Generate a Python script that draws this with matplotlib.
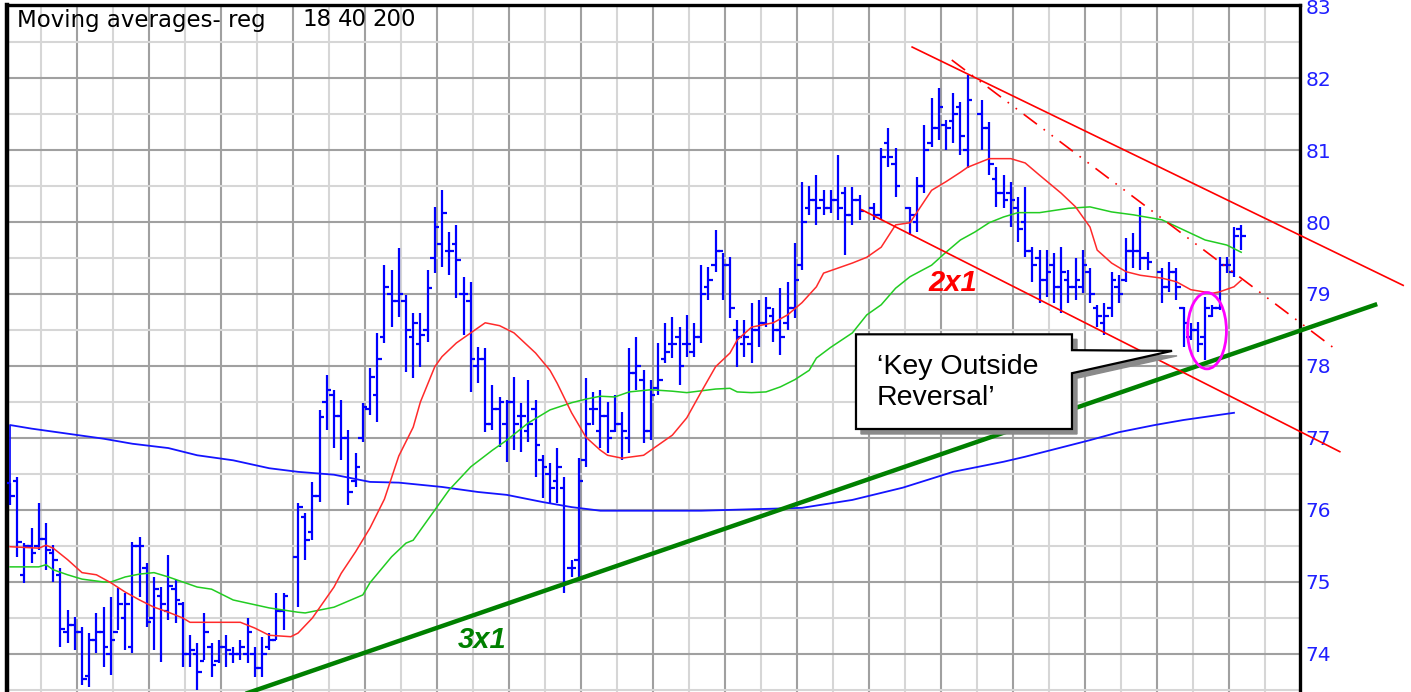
import numpy as np
import matplotlib
matplotlib.use("Agg")
import matplotlib.pyplot as plt
from matplotlib.patches import Ellipse, Polygon
from matplotlib import transforms

nan = np.nan

# daily bars (one value per trading day, nan = no bar)
high = [76.38, 76.46, 75.54, 75.75, 76.10, 75.82, 75.51, 75.20, 74.61, 74.51,
        74.37, 74.29, 74.57, 74.65, 74.79, 74.92, 74.85, 75.56, 75.63, 75.26,
        75.07, 74.93, 75.38, 75.03, 74.72, 74.26, 74.15, 74.57, 74.15, 74.19,
        74.26, 74.10, 74.19, 74.50, 74.10, 74.24, 74.29, 74.85, 74.85, nan,
        76.10, 75.96, 76.39, 77.39, 77.88, 77.67, 77.53, 77.11, 76.79, 77.49,
        77.97, 78.46, 79.40, 79.33, 79.64, 78.99, 78.74, 78.74, 79.33, 80.21,
        80.44, 79.86, 79.96, 79.24, 79.17, 78.26, 78.25, 77.74, 77.57, 77.53,
        77.85, 77.49, 77.81, 77.53, 76.76, 76.65, 76.86, 76.46, 75.31, 76.72,
        77.83, 77.64, 77.67, 77.50, 77.60, 77.36, 78.25, 78.40, 77.94, 77.81,
        78.32, 78.60, 78.68, 78.54, 78.71, 78.60, 79.40, 79.38, 79.89, 79.57,
        79.51, 78.64, 78.64, 78.88, 78.92, 78.96, 78.81, 79.08, 79.17, 79.71,
        80.56, 80.50, 80.65, 80.44, 80.44, 80.93, 80.49, 80.49, 80.38, nan,
        80.26, 81.03, 81.31, 81.03, nan, 80.21, 80.63, 81.35, 81.72, 81.86,
        81.42, 81.79, 81.67, 82.04, nan, 81.69, 81.39, 80.76, 80.65, 80.56,
        80.35, 80.49, 79.65, 79.61, 79.61, 79.57, 79.65, 79.33, 79.50, 79.61,
        79.36, 78.85, 78.88, 79.31, 79.26, 79.78, 79.85, 80.21, 79.58, nan,
        79.36, 79.44, 79.36, 78.82, 78.60, 78.61, 78.96, 78.85, 79.51, 79.51,
        79.93, 79.96]

low = [76.07, 75.35, 74.99, 75.26, 75.44, 75.17, 75.00, 74.10, 74.15, 74.06,
       73.57, 73.54, 74.01, 73.82, 73.71, 74.33, 74.06, 74.01, 74.79, 74.37,
       74.06, 73.89, 74.47, 74.43, 73.82, 73.82, 73.50, 73.92, 73.68, 73.88,
       73.82, 73.88, 73.92, 73.88, 73.68, 73.68, 74.06, 74.19, 74.33, nan,
       74.65, 75.31, 75.58, 76.11, 77.11, 76.86, 76.69, 76.07, 76.32, 76.94,
       77.32, 77.22, 78.32, 78.54, 78.68, 77.92, 77.83, 77.99, 78.33, 79.29,
       79.38, 79.26, 78.94, 78.43, 77.64, 77.76, 77.08, 77.11, 76.88, 76.67,
       76.83, 76.81, 76.94, 76.46, 76.17, 76.10, 76.10, 74.85, 75.07, 75.07,
       76.60, 77.18, 76.86, 76.79, 77.08, 76.69, 76.79, 77.67, 76.93, 76.97,
       77.60, 78.04, 78.11, 77.74, 78.13, 78.13, 78.32, 78.92, 79.31, 78.92,
       78.67, 77.99, 78.13, 78.04, 78.26, 78.54, 78.33, 78.15, 78.50, 78.67,
       79.33, 80.10, 79.96, 80.10, 80.12, 80.03, 79.54, 79.96, 80.03, nan,
       80.03, 80.03, 80.76, 80.35, nan, 79.82, 79.86, 80.40, 81.04, 81.14,
       81.00, 81.10, 80.93, 80.75, nan, 81.00, 80.65, 80.21, 80.19, 79.93,
       79.72, 79.51, 79.17, 78.88, 78.96, 78.88, 78.74, 78.88, 78.92, 79.01,
       78.88, 78.54, 78.43, 78.68, 78.88, 79.17, 79.36, 79.33, 79.33, nan,
       78.88, 79.03, 78.92, 78.26, 78.36, 78.19, 78.08, 78.68, 78.78, 79.29,
       79.24, 79.61]

opens = [76.38, 76.40, 75.10, 75.50, 75.50, 75.60, 75.40, 75.10, 74.30, 74.40,
         74.30, 73.70, 74.20, 74.30, 74.00, 74.30, 74.50, 74.10, 75.50, 75.20,
         74.50, 74.80, 74.60, 74.90, 74.70, 74.00, 74.00, 73.90, 74.10, 73.90,
         74.10, 74.00, 74.00, 74.00, 74.00, 73.80, 74.10, 74.20, 74.60, nan,
         75.35, 75.90, 75.70, 76.20, 77.50, 77.60, 77.30, 77.00, 76.40, 77.00,
         77.40, 77.60, 78.40, 79.00, 78.90, 78.90, 78.40, 78.30, 78.50, 79.50,
         79.70, 79.60, 79.70, 79.00, 78.90, 78.00, 78.10, 77.20, 77.40, 77.20,
         77.50, 77.30, 77.10, 77.40, 76.70, 76.50, 76.40, 76.30, 75.20, 75.30,
         76.70, 77.40, 77.10, 77.30, 77.10, 77.20, 77.00, 77.90, 77.80, 77.10,
         77.70, 78.10, 78.30, 78.40, 78.30, 78.20, 78.40, 79.10, 79.40, 79.60,
         79.40, 78.50, 78.30, 78.30, 78.50, 78.60, 78.70, 78.50, 78.60, 78.80,
         79.40, 80.20, 80.30, 80.30, 80.20, 80.30, 80.40, 80.10, 80.30, nan,
         80.20, 80.10, 81.10, 80.80, nan, 80.20, 80.00, 80.50, 81.10, 81.30,
         81.35, 81.40, 81.60, 81.00, nan, 81.50, 81.30, 80.60, 80.40, 80.40,
         80.20, 80.00, 79.60, 79.50, 79.20, 79.40, 79.10, 79.20, 79.10, 79.10,
         79.30, 78.80, 78.60, 78.80, 79.10, 79.20, 79.60, 79.60, 79.50, nan,
         79.30, 79.10, 79.30, 78.80, 78.40, 78.50, 78.40, 78.70, 78.80, 79.40,
         79.30, 79.90]

close = [76.20, 75.55, 75.50, 75.40, 75.60, 75.45, 75.30, 74.35, 74.40, 74.30,
         73.65, 74.20, 74.30, 74.10, 74.20, 74.70, 74.70, 75.50, 75.50, 74.45,
         74.90, 74.70, 74.95, 74.75, 74.00, 74.05, 73.75, 74.30, 73.85, 74.10,
         74.05, 74.00, 74.10, 74.30, 73.80, 74.00, 74.20, 74.60, 74.80, nan,
         76.04, 75.58, 76.20, 77.29, 77.67, 77.30, 77.00, 76.25, 76.60, 77.43,
         77.85, 78.10, 79.10, 78.90, 79.00, 78.50, 78.60, 78.43, 79.08, 79.93,
         80.12, 79.60, 79.47, 79.00, 78.10, 78.10, 77.20, 77.40, 77.50, 77.50,
         77.20, 77.30, 77.20, 76.90, 76.60, 76.30, 76.60, 75.00, 75.20, 76.40,
         77.20, 77.40, 77.30, 77.00, 77.20, 77.10, 77.90, 78.00, 77.10, 77.60,
         77.80, 78.20, 78.30, 78.00, 78.30, 78.40, 79.00, 79.20, 79.60, 79.40,
         78.80, 78.40, 78.40, 78.50, 78.60, 78.80, 78.50, 78.40, 78.80, 79.20,
         80.00, 80.30, 80.20, 80.20, 80.30, 80.20, 80.10, 80.30, 80.15, nan,
         80.10, 80.90, 80.90, 80.50, nan, 80.10, 80.50, 81.00, 81.30, 81.60,
         81.30, 81.50, 81.20, 81.70, nan, 81.30, 80.80, 80.40, 80.30, 80.30,
         79.90, 79.60, 79.40, 79.20, 79.30, 79.10, 79.30, 79.10, 79.20, 79.40,
         79.00, 78.70, 78.70, 79.20, 79.00, 79.60, 79.60, 79.50, 79.45, nan,
         79.10, 79.30, 79.10, 78.60, 78.50, 78.30, 78.80, 78.80, 79.40, 79.40,
         79.80, 79.80]

# moving averages (bar index, price)
ma18_day = [0, 4, 5, 6, 8, 10, 12, 14, 16, 18, 20, 22, 24, 25, 28, 32, 34, 36,
            39, 40, 42, 45, 46, 48, 50, 52, 54, 56, 57, 59, 60, 62, 64, 66, 68,
            70, 73, 75, 76, 78, 80, 82, 83, 85, 88, 89, 92, 94, 96, 98, 100,
            101, 103, 106, 108, 110, 112, 113, 117, 119, 121, 123, 125, 126,
            128, 130, 132, 133, 136, 139, 141, 143, 146, 148, 150, 151, 153,
            155, 157, 160, 162, 164, 167, 168, 170, 171]
ma18_val = [75.49, 75.47, 75.51, 75.47, 75.31, 75.13, 75.10, 74.99, 74.86,
            74.75, 74.65, 74.58, 74.50, 74.44, 74.44, 74.44, 74.36, 74.26,
            74.24, 74.29, 74.50, 74.93, 75.12, 75.42, 75.75, 76.15, 76.75,
            77.15, 77.50, 77.99, 78.13, 78.32, 78.46, 78.60, 78.56, 78.46,
            78.18, 77.94, 77.76, 77.35, 77.01, 76.83, 76.76, 76.72, 76.76,
            76.83, 77.04, 77.28, 77.64, 77.99, 78.18, 78.36, 78.54, 78.60,
            78.71, 78.88, 79.10, 79.29, 79.43, 79.51, 79.65, 79.96, 79.99,
            80.14, 80.44, 80.56, 80.69, 80.76, 80.88, 80.88, 80.82, 80.65,
            80.40, 80.21, 79.93, 79.61, 79.43, 79.31, 79.26, 79.22, 79.17,
            79.06, 79.01, 79.03, 79.10, 79.19]

ma40_day = [0, 4, 5, 6, 8, 10, 13, 14, 16, 18, 20, 22, 24, 26, 28, 31, 36, 40,
            41, 45, 49, 50, 53, 55, 56, 59, 61, 64, 67, 69, 72, 75, 78, 80, 82,
            84, 86, 89, 92, 94, 98, 100, 101, 103, 105, 107, 109, 111, 112,
            114, 117, 119, 121, 123, 125, 128, 130, 132, 134, 136, 138, 140,
            143, 147, 150, 153, 156, 160, 163, 166, 169, 171]
ma40_val = [75.21, 75.21, 75.24, 75.17, 75.10, 75.04, 75.00, 75.00, 75.07,
            75.11, 75.13, 75.07, 75.00, 74.93, 74.90, 74.75, 74.64, 74.58,
            74.57, 74.65, 74.82, 74.99, 75.35, 75.54, 75.58, 76.00, 76.28,
            76.60, 76.83, 76.97, 77.21, 77.39, 77.49, 77.54, 77.58, 77.57,
            77.64, 77.67, 77.65, 77.63, 77.68, 77.69, 77.64, 77.63, 77.64,
            77.71, 77.81, 77.94, 78.11, 78.26, 78.46, 78.71, 78.85, 79.08,
            79.24, 79.40, 79.58, 79.75, 79.86, 79.99, 80.07, 80.13, 80.13,
            80.19, 80.21, 80.14, 80.10, 80.03, 79.89, 79.75, 79.68, 79.58]

ma200_day = [0, 0, 3, 8, 13, 17, 22, 26, 31, 36, 40, 45, 50, 54, 60, 65, 69,
             74, 78, 82, 86, 96, 110, 117, 124, 131, 138, 141, 150, 154, 159,
             163, 170]
ma200_val = [76.38, 77.18, 77.13, 77.06, 76.99, 76.92, 76.86, 76.76, 76.69,
             76.58, 76.53, 76.49, 76.39, 76.38, 76.32, 76.25, 76.21, 76.11,
             76.04, 75.99, 75.99, 75.99, 76.03, 76.14, 76.31, 76.53, 76.67,
             76.74, 76.97, 77.08, 77.18, 77.25, 77.35]

# drawn trend lines (bar index, price)
line_3x1 = ([20.0, 189.6], [73.01, 78.85])
chan_upper = ([125.3, 193.5], [82.43, 79.12])
chan_lower = ([118.3, 184.7], [80.17, 76.81])
dashdot = ([130.8, 184.0], [82.25, 78.24])

price_labels = [74, 75, 76, 77, 78, 79, 80, 81, 82, 83]

W, H = 1411, 692
fig = plt.figure(figsize=(W / 100, H / 100), dpi=100)
ax = fig.add_axes([7 / W, 0, 1293 / W, 687 / H])
ax.set_xlim(-0.417, 179.17)
ax.set_ylim(73.472, 83.014)

# grid
ax.set_yticks(price_labels)
ax.set_yticks(np.arange(73.5, 83, 1.0), minor=True)
ax.set_xticks(np.arange(9.306, 179, 10))
ax.set_xticks(np.arange(4.306, 179, 10), minor=True)
ax.grid(which="major", color="#a0a0a0", lw=1.5, zorder=0)
ax.grid(which="minor", color="#d6d6d6", lw=1.5, zorder=0)
ax.set_axisbelow(True)
ax.tick_params(axis="x", which="both", length=0, labelbottom=False)
ax.yaxis.tick_right()
ax.tick_params(axis="y", which="both", length=0, pad=4,
               labelcolor="#1f1fff", labelsize=14.5)
ax.set_yticklabels([str(v) for v in price_labels])

for side in ["left", "right", "top"]:
    ax.spines[side].set_color("black")
ax.spines["left"].set_linewidth(3.2)
ax.spines["right"].set_linewidth(2.4)
ax.spines["top"].set_linewidth(2.4)
ax.spines["bottom"].set_visible(False)

# price bars
days = np.arange(len(high))
ax.vlines(days, low, high, color="#0000ff", lw=1.6, zorder=3)
ax.hlines(opens, days - 0.65, days, color="#0000ff", lw=1.6, zorder=3)
ax.hlines(close, days, days + 0.65, color="#0000ff", lw=1.6, zorder=3)

# moving averages
ax.plot(ma200_day, ma200_val, color="#1414ff", lw=1.3, zorder=4)
ax.plot(ma40_day, ma40_val, color="#22cc22", lw=1.1, zorder=4)
ax.plot(ma18_day, ma18_val, color="#ff2a2a", lw=1.1, zorder=4)

# trend lines
ax.plot(*line_3x1, color="#008000", lw=3.2, zorder=5, clip_on=False)
ax.plot(*chan_upper, color="#ff0000", lw=1.2, zorder=5, clip_on=False)
ax.plot(*chan_lower, color="#ff0000", lw=1.2, zorder=5, clip_on=False)
ax.plot(*dashdot, color="#ff0000", lw=1.2, zorder=5, clip_on=False,
        dashes=(10, 5, 1, 5, 1, 5))

ax.add_patch(Ellipse((166.25, 78.49), 5.4, 1.06, fill=False,
                     edgecolor="#ff00ff", lw=2, zorder=6))

ax.text(130.97, 79.15, "2x1", color="#ff0000", fontsize=21, fontweight="bold",
        fontstyle="italic", family="Liberation Sans", ha="center", va="center",
        zorder=6)
ax.text(65.56, 74.19, "3x1", color="#008000", fontsize=21, fontweight="bold",
        fontstyle="italic", family="Liberation Sans", ha="center", va="center",
        zorder=6)

# callout
callout = [(117.5, 78.44), (147.5, 78.44), (147.5, 78.22), (161.4, 78.21),
           (147.5, 77.90), (147.5, 77.125), (117.5, 77.125)]
shadow_tr = transforms.offset_copy(ax.transData, fig=fig, x=5, y=-5,
                                   units="dots")
ax.add_patch(Polygon(callout, closed=True, facecolor="#8a8a8a",
                     edgecolor="#8a8a8a", lw=1, transform=shadow_tr, zorder=7))
ax.add_patch(Polygon(callout, closed=True, facecolor="white",
                     edgecolor="black", lw=1.6, zorder=8))
ax.text(120.4, 77.77, "\u2018Key Outside\nReversal\u2019", fontsize=20.5,
        family="Liberation Sans", ha="left", va="center", linespacing=1.22,
        zorder=9)

# header
fig.text(17 / W, 1 - 20 / H, "Moving averages- reg", fontsize=16.5,
         ha="left", va="center")
fig.text(302 / W, 1 - 20 / H, "18", fontsize=16.5, ha="left", va="center")
fig.text(338 / W, 1 - 20 / H, "40", fontsize=16.5, ha="left", va="center")
fig.text(372 / W, 1 - 20 / H, "200", fontsize=16.5, ha="left", va="center")

fig.savefig("out.png", dpi=100)
